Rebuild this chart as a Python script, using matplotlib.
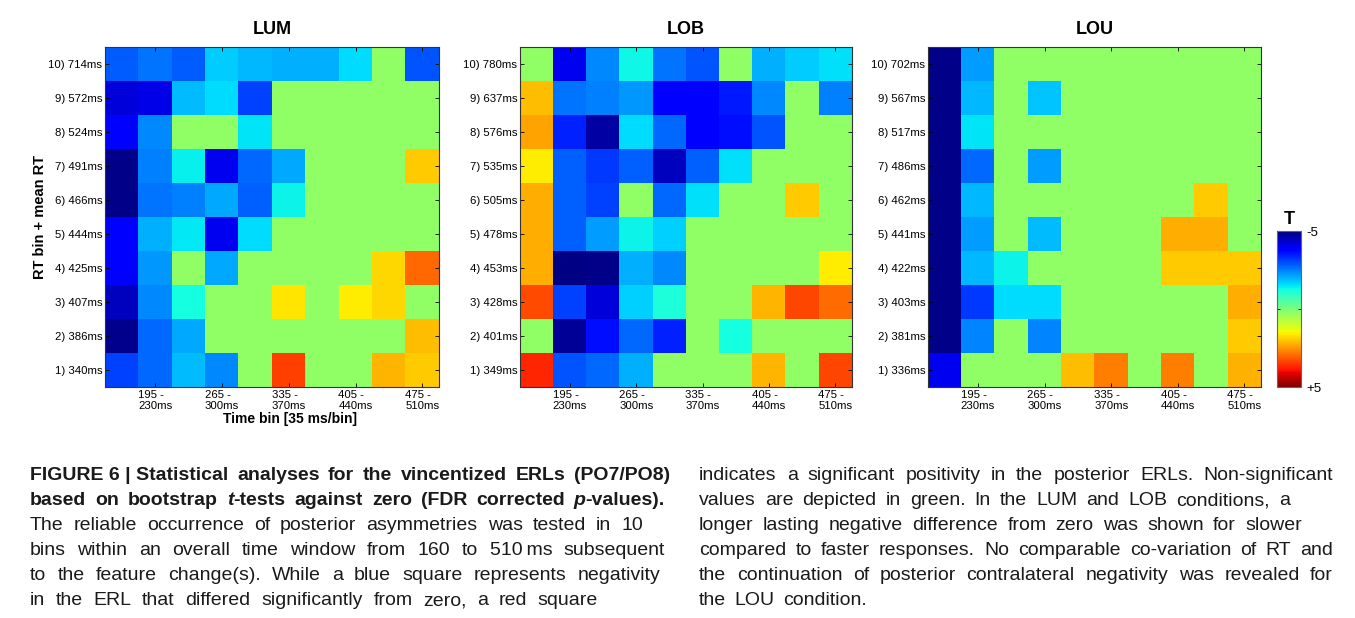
import matplotlib
matplotlib.use("Agg")
import matplotlib.pyplot as plt
import numpy as np

# ---------------- data ----------------
W, H = 1355, 618
conditions = ["LUM", "LOB", "LOU"]
time_tick_labels = ["195 - \n230ms", "265 - \n300ms", "335 - \n370ms",
                    "405 - \n440ms", "475 - \n510ms"]
rt_labels_lum = ["10) 714ms", "9) 572ms", "8) 524ms", "7) 491ms", "6) 466ms",
                 "5) 444ms", "4) 425ms", "3) 407ms", "2) 386ms", "1) 340ms"]
rt_labels_lob = ["10) 780ms", "9) 637ms", "8) 576ms", "7) 535ms", "6) 505ms",
                 "5) 478ms", "4) 453ms", "3) 428ms", "2) 401ms", "1) 349ms"]
rt_labels_lou = ["10) 702ms", "9) 567ms", "8) 517ms", "7) 486ms", "6) 462ms",
                 "5) 441ms", "4) 422ms", "3) 403ms", "2) 381ms", "1) 336ms"]

G = 0.24  # non-significant (green)
# T values: rows = RT bin 10 (top) .. 1 (bottom); columns = 10 time bins (160-510 ms)
t_lum = [
    [-2.85, -2.6, -2.85, -1.75, -1.95, -2.0, -2.0, -1.6, G, -2.9],
    [-4.2, -4.1, -1.9, -1.6, -3.1, G, G, G, G, G],
    [-3.85, -2.4, G, G, -1.5, G, G, G, G, G],
    [-4.9, -2.5, -1.4, -4.0, -2.7, -2.1, G, G, G, 1.95],
    [-4.9, -2.6, -2.5, -2.1, -2.8, -1.35, G, G, G, G],
    [-3.85, -2.0, -1.45, -4.0, -1.6, G, G, G, G, G],
    [-3.85, -2.25, G, -2.1, G, G, G, G, 1.8, 3.0],
    [-4.45, -2.4, -1.25, G, G, 1.65, G, 1.6, 1.8, G],
    [-4.85, -2.7, -2.1, G, G, G, G, G, G, 2.1],
    [-3.1, -2.7, -1.9, -2.4, G, 3.4, G, G, 2.15, 1.95],
]
t_lob = [
    [G, -4.0, -2.4, -1.3, -2.6, -2.9, G, -2.0, -1.75, -1.55],
    [2.1, -2.6, -2.5, -2.25, -3.85, -3.8, -3.5, -2.4, G, -2.5],
    [2.35, -3.4, -4.65, -1.6, -2.7, -3.8, -3.6, -2.9, G, G],
    [1.6, -2.8, -3.2, -2.8, -4.45, -2.8, -1.55, G, G, G],
    [2.25, -2.8, -3.1, G, -2.7, -1.55, G, G, 1.95, G],
    [2.25, -2.8, -2.2, -1.35, -1.7, G, G, G, G, G],
    [2.25, -4.95, -4.9, -2.0, -2.4, G, G, G, G, 1.6],
    [3.3, -3.1, -4.2, -1.7, -1.15, G, G, 2.15, 3.35, 2.95],
    [G, -4.8, -3.6, -2.7, -3.4, G, -1.25, G, G, G],
    [3.7, -2.9, -2.7, -2.0, G, G, G, 2.15, G, 3.35],
]
t_lou = [
    [-4.9, -2.2, G, G, G, G, G, G, G, G],
    [-4.9, -1.95, G, -1.8, G, G, G, G, G, G],
    [-4.9, -1.5, G, G, G, G, G, G, G, G],
    [-4.9, -2.7, G, -2.2, G, G, G, G, G, G],
    [-4.9, -1.95, G, G, G, G, G, G, 1.95, G],
    [-4.9, -2.2, G, -1.9, G, G, G, 2.25, 2.25, G],
    [-4.9, -1.95, -1.35, G, G, G, G, 1.95, 1.95, 1.95],
    [-4.9, -3.2, -1.6, -1.6, G, G, G, G, G, 2.25],
    [-4.9, -2.45, G, -2.45, G, G, G, G, G, 1.95],
    [-4.0, G, G, G, 2.1, 2.75, G, 2.75, G, 2.2],
]

# "_" = fixed (non-stretched) space, "~" = thin space, *x* = italic
caption_left = [
    ("FIGURE_6_|_Statistical analyses for the vincentized ERLs (PO7/PO8)", "bold", 670),
    ("based on bootstrap *t*-tests against zero (FDR corrected *p*-values).", "bold", 665),
    ("The reliable occurrence of posterior asymmetries was tested in 10", "normal", 643),
    ("bins within an overall time window from 160 to 510~ms subsequent", "normal", 665),
    ("to the feature change(s). While a blue square represents negativity", "normal", 660),
    ("in the ERL that differed significantly from zero, a red square", "normal", 598),
]
caption_right = [
    ("indicates a significant positivity in the posterior ERLs. Non-significant", "normal", 1333),
    ("values are depicted in green. In the LUM and LOB conditions, a", "normal", 1290),
    ("longer lasting negative difference from zero was shown for slower", "normal", 1302),
    ("compared to faster responses. No comparable co-variation of RT and", "normal", 1333),
    ("the continuation of posterior contralateral negativity was revealed for", "normal", 1333),
    ("the LOU condition.", "normal", None),
]

# ---------------- figure ----------------
plt.rcParams["font.family"] = ["Liberation Sans", "DejaVu Sans"]
fig = plt.figure(figsize=(W / 100, H / 100), dpi=100)


def fx(px):
    return px / W


def fy(py):
    return 1 - py / H


panels = [
    ("LUM", t_lum, rt_labels_lum, 105, 439),
    ("LOB", t_lob, rt_labels_lob, 520, 852),
    ("LOU", t_lou, rt_labels_lou, 928, 1261),
]
top_px, bot_px = 47, 387
cmap = plt.get_cmap("jet")
im = None
for name, data, ylabels, x0, x1 in panels:
    ax = fig.add_axes([fx(x0), fy(bot_px), fx(x1 - x0), (bot_px - top_px) / H])
    arr = np.array(data)
    im = ax.imshow(arr, cmap=cmap, vmin=-5, vmax=5, aspect="auto",
                   interpolation="nearest", origin="upper",
                   extent=(0.5, 10.5, 10.5, 0.5))
    ax.set_xticks([2, 4, 6, 8, 10])
    ax.set_xticklabels(time_tick_labels, multialignment="left")
    ax.set_yticks(np.arange(1, 11))
    ax.set_yticklabels(ylabels)
    ax.tick_params(axis="both", direction="in", length=3, width=0.6,
                   top=True, right=True, labelsize=8.2, pad=2)
    ax.tick_params(axis="x", pad=2)
    for sp in ax.spines.values():
        sp.set_linewidth(0.8)
        sp.set_color("#333333")
    fig.text(fx((x0 + x1) / 2), fy(30), name, ha="center", va="center",
             fontsize=13, fontweight="bold")

fig.text(fx(40), fy(217), "RT bin + mean RT", rotation=90, ha="center",
         va="center", fontsize=10.5, fontweight="bold")
fig.text(fx(290), fy(419), "Time bin [35 ms/bin]", ha="center", va="center",
         fontsize=10, fontweight="bold")

# colorbar
cax = fig.add_axes([fx(1277), fy(387), fx(24), (387 - 231) / H])
cb = fig.colorbar(im, cax=cax)
cax.invert_yaxis()
cb.set_ticks([-5, 0, 5])
cb.set_ticklabels(["-5", "", "+5"])
cax.tick_params(direction="in", length=2, width=0.6, left=True, right=True,
                labelsize=9.5, pad=4)
cb.outline.set_edgecolor("#666666")
cb.outline.set_linewidth(0.8)
fig.text(fx(1289), fy(220), "T", ha="center", va="center", fontsize=13,
         fontweight="bold")

# caption (justified word placement)
cap_family = ["Liberation Sans", "DejaVu Sans"]
cap_size = 14
renderer = fig.canvas.get_renderer()


def parse_word(word):
    segs = []
    italic = False
    for part in word.replace("~", "\u2009").replace("_", " ").split("*"):
        if part:
            segs.append((part, "italic" if italic else "normal"))
        italic = not italic
    return segs


def draw_line(text, weight, x_left, x_right, y_base):
    words = text.split(" ")
    placed = []
    widths = []
    for w in words:
        objs = []
        total = 0.0
        for s, style in parse_word(w):
            t = fig.text(0, 0, s, fontsize=cap_size, fontweight=weight,
                         fontstyle=style, family=cap_family, va="baseline",
                         ha="left", color="#1a1a1a")
            bb = t.get_window_extent(renderer)
            objs.append((t, bb.width))
            total += bb.width
        placed.append(objs)
        widths.append(total)
    sp = fig.text(0, 0, "a a", fontsize=cap_size, fontweight=weight, family=cap_family)
    sp2 = fig.text(0, 0, "aa", fontsize=cap_size, fontweight=weight, family=cap_family)
    space_w = sp.get_window_extent(renderer).width - sp2.get_window_extent(renderer).width
    sp.remove()
    sp2.remove()
    if x_right is None or len(words) < 2:
        gap = space_w * 1.6
    else:
        gap = (x_right - x_left - sum(widths)) / (len(words) - 1)
    x = x_left
    for objs, wtot in zip(placed, widths):
        xx = x
        for t, wd in objs:
            t.set_position((fx(xx), fy(y_base)))
            xx += wd
        x += wtot + gap


line_y0, line_dy = 480, 25
for i, (txt, wgt, xr) in enumerate(caption_left):
    draw_line(txt, wgt, 30, xr, line_y0 + i * line_dy)
for i, (txt, wgt, xr) in enumerate(caption_right):
    draw_line(txt, wgt, 699, xr, line_y0 + i * line_dy)

fig.savefig("out.png", dpi=100)
